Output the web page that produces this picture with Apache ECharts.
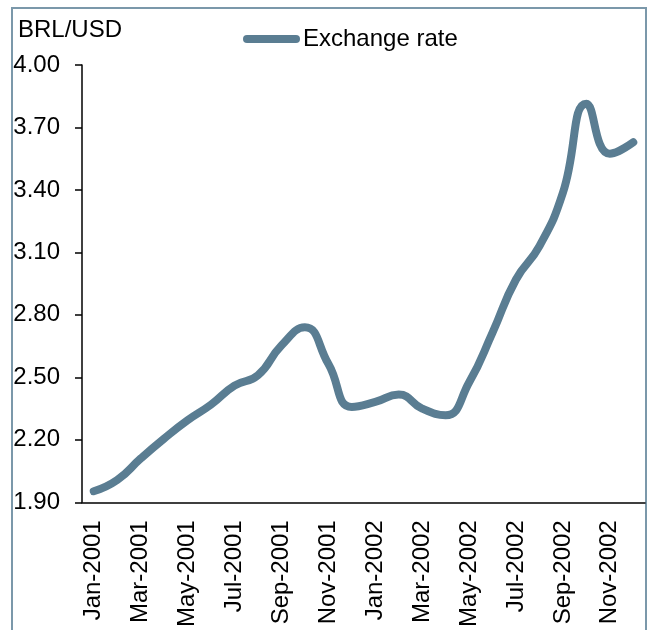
<!DOCTYPE html>
<html>
<head>
<meta charset="utf-8">
<script src="https://cdn.jsdelivr.net/npm/echarts@6/dist/echarts.min.js"></script>
<style>
html, body { margin: 0; padding: 0; background: #fff; }
#main { width: 649px; height: 630px; }
</style>
</head>
<body>
<div id="main"></div>
<script>
var months = ['Jan-2001', 'Feb-2001', 'Mar-2001', 'Apr-2001', 'May-2001', 'Jun-2001',
	'Jul-2001', 'Aug-2001', 'Sep-2001', 'Oct-2001', 'Nov-2001', 'Dec-2001',
	'Jan-2002', 'Feb-2002', 'Mar-2002', 'Apr-2002', 'May-2002', 'Jun-2002',
	'Jul-2002', 'Aug-2002', 'Sep-2002', 'Oct-2002', 'Nov-2002', 'Dec-2002'];
// BRL per USD, monthly
var rate = [1.953, 2.007, 2.11, 2.206, 2.294, 2.369,
	2.46, 2.51, 2.653, 2.74, 2.565, 2.358,
	2.382, 2.417, 2.35, 2.318, 2.475, 2.715,
	2.97, 3.13, 3.386, 3.814, 3.574, 3.629];
var yMin = 1.9;
var yMax = 4.0;
var yStep = 0.3;

var font = 'Liberation Sans, Arial, sans-serif';
var main = echarts.init(document.getElementById('main'));

var option = {
	animation: false,
	title: {
		text: 'BRL/USD',
		left: 13,
		top: 13,
		textStyle: { fontFamily: font, fontSize: 24, fontWeight: 'normal', color: '#000' }
	},
	legend: {
		left: 238,
		top: 22,
		itemWidth: 57,
		itemHeight: 8,
		itemGap: 4,
		icon: 'path://M4,0H53A4,4,0,0,1,53,8H4A4,4,0,0,1,4,0Z',
		textStyle: { fontFamily: font, fontSize: 24, color: '#000', padding: [0, 0, 0, -2] },
		data: ['Exchange rate']
	},
	graphic: [{
		type: 'rect',
		shape: { x: 12, y: 8, width: 634, height: 640 },
		style: { fill: 'none', stroke: '#7b98aa', lineWidth: 2 },
		silent: true
	}],
	grid: { left: 82, right: 4, top: 65, bottom: 126 },
	xAxis: {
		type: 'category',
		data: months,
		boundaryGap: true,
		axisLine: { lineStyle: { color: '#000', width: 1.5 } },
		axisTick: { show: false },
		axisLabel: {
			interval: 1,
			rotate: 90,
			margin: 18,
			fontFamily: font,
			fontSize: 24,
			color: '#000'
		}
	},
	yAxis: {
		type: 'value',
		min: yMin,
		max: yMax,
		interval: yStep,
		splitLine: { show: false },
		axisLine: { show: true, lineStyle: { color: '#000', width: 1.5 } },
		axisTick: { show: true, length: 7, lineStyle: { color: '#000', width: 1.5 } },
		axisLabel: {
			margin: 22,
			fontFamily: font,
			fontSize: 24,
			color: '#000',
			formatter: function (v) { return v.toFixed(2); }
		}
	},
	series: [{
		name: 'Exchange rate',
		type: 'line',
		data: rate,
		smooth: 0.5,
		symbol: 'none',
		lineStyle: { color: '#5a7d92', width: 8, cap: 'round', join: 'round' },
		itemStyle: { color: '#5a7d92' }
	}]
};
main.setOption(option);
</script>
</body>
</html>
